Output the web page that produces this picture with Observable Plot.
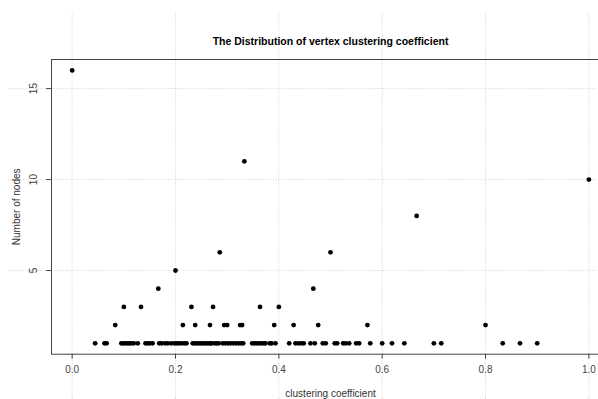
<!DOCTYPE html>
<html>
<head>
<meta charset="utf-8">
<script src="https://cdn.jsdelivr.net/npm/d3@7"></script>
<script src="https://cdn.jsdelivr.net/npm/@observablehq/plot@0.6"></script>
<style>
  html, body { margin: 0; padding: 0; background: #fff; overflow: hidden; }
  #chart svg { overflow: hidden; }
</style>
</head>
<body>
<div id="chart"></div>
<script>
// ---- data ----
const titleText = "The Distribution of vertex clustering coefficient";
const xLabel = "clustering coefficient";
const yLabel = "Number of nodes";
const xTicks = [0, 0.2, 0.4, 0.6, 0.8, 1.0];
const yTicks = [5, 10, 15];

const ccValues = [
  0.0000, 0.0444, 0.0625, 0.0667, 0.0833, 0.0952, 0.0988, 0.1000, 0.1026, 0.1064,
  0.1103, 0.1142, 0.1192, 0.1270, 0.1333, 0.1419, 0.1458, 0.1503, 0.1556, 0.1667,
  0.1684, 0.1734, 0.1800, 0.1850, 0.1916, 0.1980, 0.2000, 0.2019, 0.2064, 0.2116,
  0.2143, 0.2168, 0.2212, 0.2308, 0.2334, 0.2373, 0.2381, 0.2412, 0.2450, 0.2489,
  0.2528, 0.2566, 0.2605, 0.2644, 0.2667, 0.2683, 0.2700, 0.2727, 0.2760, 0.2799,
  0.2837, 0.2857, 0.2915, 0.2941, 0.2967, 0.3000, 0.3019, 0.3064, 0.3122, 0.3174,
  0.3225, 0.3250, 0.3270, 0.3289, 0.3310, 0.3333, 0.3484, 0.3528, 0.3573, 0.3619,
  0.3636, 0.3664, 0.3708, 0.3741, 0.3824, 0.3860, 0.3910, 0.3935, 0.4000, 0.4200,
  0.4286, 0.4322, 0.4380, 0.4432, 0.4482, 0.4612, 0.4667, 0.4695, 0.4762, 0.4850,
  0.4908, 0.5000, 0.5082, 0.5129, 0.5245, 0.5295, 0.5361, 0.5496, 0.5554, 0.5714,
  0.5769, 0.6000, 0.6190, 0.6429, 0.6667, 0.7000, 0.7143, 0.8000, 0.8333, 0.8667,
  0.9000, 1.0000
];
const nodeCounts = [
  16, 1, 1, 1, 2, 1, 1, 3, 1, 1,
  1, 1, 1, 1, 3, 1, 1, 1, 1, 4,
  1, 1, 1, 1, 1, 1, 5, 1, 1, 1,
  2, 1, 1, 3, 1, 1, 2, 1, 1, 1,
  1, 1, 1, 1, 2, 1, 1, 3, 1, 1,
  1, 6, 1, 2, 1, 2, 1, 1, 1, 1,
  1, 2, 1, 2, 1, 11, 1, 1, 1, 1,
  3, 1, 1, 1, 1, 1, 2, 1, 3, 1,
  2, 1, 1, 1, 1, 1, 4, 1, 2, 1,
  1, 6, 1, 1, 1, 1, 1, 1, 1, 2,
  1, 1, 1, 1, 8, 1, 1, 2, 1, 1,
  1, 10
];

const points = ccValues.map((cc, i) => ({cc, n: nodeCounts[i]}));

// ---- layout (R-style 4% axis extension) ----
const W = 598, H = 399;
const mLeft = 51, mTop = 59, mBottom = 45.3;
const xMin = d3.min(ccValues), xMax = d3.max(ccValues);
const yMin = d3.min(nodeCounts), yMax = d3.max(nodeCounts);
const xPad = (xMax - xMin) * 0.04, yPad = (yMax - yMin) * 0.04;
const xDomain = [xMin - xPad, xMax + xPad];
const yDomain = [yMin - yPad, yMax + yPad];
const pxPerX = 516.7;
const plotW = (xDomain[1] - xDomain[0]) * pxPerX;
const mRight = W - mLeft - plotW; // negative: frame runs past the window
const yScale = d3.scaleLinear(yDomain, [H - mBottom, mTop]);
const xScale = d3.scaleLinear(xDomain, [mLeft, mLeft + plotW]);

const font = "'Liberation Sans', Arial, Helvetica, sans-serif";
const gridStyle = {stroke: "#d6d6d6", strokeWidth: 1, strokeDasharray: "1,1.5"};

const chart = Plot.plot({
  width: W,
  height: H,
  marginLeft: mLeft,
  marginRight: mRight,
  marginTop: mTop,
  marginBottom: mBottom,
  style: {fontFamily: font, background: "#fff"},
  x: {domain: xDomain},
  y: {domain: yDomain},
  marks: [
    // grid lines that extend outside the plotting box
    Plot.ruleX(xTicks, {x: d => d, y1: yScale.invert(13), y2: yScale.invert(H), ...gridStyle}),
    Plot.ruleY(yTicks, {y: d => d, x1: xScale.invert(8), x2: xScale.invert(W), ...gridStyle}),
    Plot.frame({stroke: "#444", strokeWidth: 1}),
    Plot.axisX(xTicks, {tickSize: 5, tickPadding: 7, tickFormat: d => d.toFixed(1), fontSize: 10, fill: "#444", stroke: "#444", label: null}),
    Plot.axisY(yTicks, {tickSize: 5, tickFormat: () => "", stroke: "#444", label: null}),
    Plot.text(yTicks, {y: d => d, text: d => String(d), frameAnchor: "left", dx: -18, rotate: -90, textAnchor: "middle", fontSize: 10, fill: "#444"}),
    Plot.text([yLabel], {text: d => d, frameAnchor: "left", dx: -35, rotate: -90, textAnchor: "middle", fontSize: 10, fill: "#333"}),
    Plot.text([xLabel], {text: d => d, frameAnchor: "bottom", dy: 43, fontSize: 10, fill: "#333"}),
    Plot.text([titleText], {text: d => d, frameAnchor: "top", dy: -22, fontSize: 10.5, fontWeight: "bold", fill: "#000"}),
    Plot.dot(points, {x: "cc", y: "n", r: 2.4, fill: "#000", stroke: "none"})
  ]
});
document.getElementById("chart").appendChild(chart);
</script>
</body>
</html>
